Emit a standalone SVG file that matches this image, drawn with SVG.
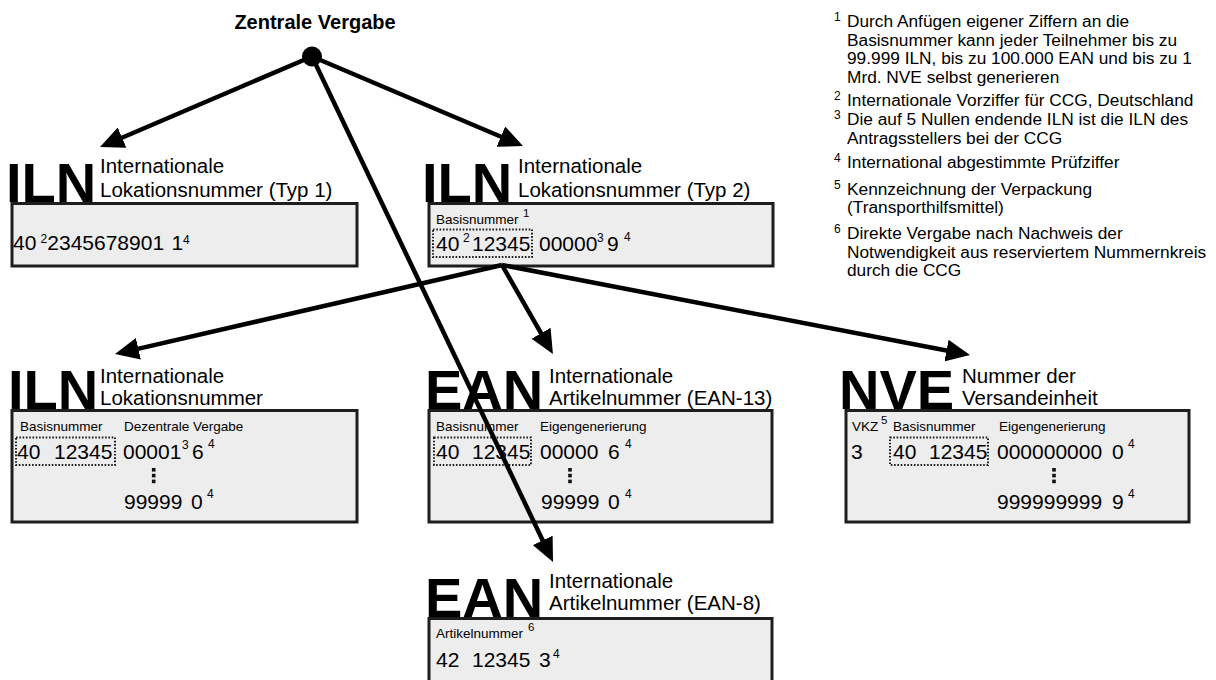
<svg xmlns="http://www.w3.org/2000/svg" width="1216" height="680" viewBox="0 0 1216 680">
  <style>
    text { font-family: "Liberation Sans", Arial, Helvetica, sans-serif; fill: #000; }
    .title { font-size: 20px; font-weight: bold; }
    .big { font-size: 56px; font-weight: bold; }
    .sub { font-size: 20.5px; }
    .num { font-size: 21px; }
    .lab { font-size: 13.5px; }
    .sup { font-size: 12px; }
    .lsup { font-size: 11.5px; }
    .fn { font-size: 17.3px; }
    .box { fill: #ededed; stroke: #1e1e1e; stroke-width: 3; }
    .dot { fill: none; stroke: #1e1e1e; stroke-width: 2; stroke-dasharray: 1.6 1.7; }
    .vdots { fill: #111; }
    .edge { fill: none; stroke: #000; stroke-width: 4.5; marker-end: url(#head); }
  </style>
  <defs>
    <marker id="head" markerUnits="userSpaceOnUse" markerWidth="24" markerHeight="22" viewBox="0 0 24 22" refX="4" refY="11" orient="auto">
      <path d="M0,0 L24,11 L0,22 Z" fill="#000"/>
    </marker>
    <!-- vertical ellipsis used between number ranges -->
    <g id="ell">
      <rect x="-1.8" y="0" width="3.6" height="3.6" class="vdots"/>
      <rect x="-1.8" y="5.8" width="3.6" height="3.6" class="vdots"/>
      <rect x="-1.8" y="11.6" width="3.6" height="3.6" class="vdots"/>
    </g>
  </defs>

  <!-- root: central assignment -->
  <g id="zentrale-vergabe">
    <text x="315" y="29" class="title" text-anchor="middle">Zentrale Vergabe</text>
    <circle cx="312" cy="56.5" r="10" fill="#000"/>
  </g>

  <!-- ILN type 1 -->
  <g id="iln-typ1">
    <text x="6" y="202" class="big">ILN</text>
    <text x="100" y="173" class="sub">Internationale</text>
    <text x="100" y="197" class="sub">Lokationsnummer (Typ 1)</text>
    <rect x="12" y="203.5" width="345" height="62.5" class="box"/>
    <text x="13" y="250" class="num">40</text>
    <text x="40.5" y="243" class="sup">2</text>
    <text x="47.3" y="250" class="num">2345678901</text>
    <text x="171.5" y="250" class="num">1</text>
    <text x="183" y="244" class="sup">4</text>
  </g>

  <!-- ILN type 2 -->
  <g id="iln-typ2">
    <text x="422" y="202" class="big">ILN</text>
    <text x="518" y="173" class="sub">Internationale</text>
    <text x="518" y="197" class="sub">Lokationsnummer (Typ 2)</text>
    <rect x="429" y="203.5" width="344" height="62.5" class="box"/>
    <text x="436" y="224" class="lab">Basisnummer</text>
    <text x="523" y="217" class="lsup">1</text>
    <rect x="433" y="229.5" width="99" height="27.5" class="dot"/>
    <text x="436" y="251" class="num">40</text>
    <text x="463" y="242" class="sup">2</text>
    <text x="472" y="251" class="num">12345</text>
    <text x="539" y="251" class="num">00000</text>
    <text x="597" y="242" class="sup">3</text>
    <text x="607" y="251" class="num">9</text>
    <text x="624" y="241" class="sup">4</text>
  </g>

  <!-- ILN, decentral assignment -->
  <g id="iln-dezentral">
    <text x="8" y="409" class="big">ILN</text>
    <text x="100" y="383" class="sub">Internationale</text>
    <text x="100" y="405" class="sub">Lokationsnummer</text>
    <rect x="12" y="410.5" width="345" height="111.5" class="box"/>
    <text x="20" y="431" class="lab">Basisnummer</text>
    <text x="124" y="431" class="lab">Dezentrale Vergabe</text>
    <rect x="16" y="437.5" width="99" height="27.5" class="dot"/>
    <text x="17" y="459" class="num">40</text>
    <text x="54" y="459" class="num">12345</text>
    <text x="123" y="459" class="num">00001</text>
    <text x="182" y="449" class="sup">3</text>
    <text x="192" y="459" class="num">6</text>
    <text x="208" y="448" class="sup">4</text>
    <use href="#ell" x="153.7" y="468"/>
    <text x="124" y="508.5" class="num">99999</text>
    <text x="191" y="508.5" class="num">0</text>
    <text x="207" y="498" class="sup">4</text>
  </g>

  <!-- EAN-13 -->
  <g id="ean-13">
    <text x="425" y="409" class="big">EAN</text>
    <text x="549" y="383" class="sub">Internationale</text>
    <text x="549" y="405" class="sub">Artikelnummer (EAN-13)</text>
    <rect x="429" y="410.5" width="343" height="111.5" class="box"/>
    <text x="436" y="431" class="lab">Basisnummer</text>
    <text x="540" y="431" class="lab">Eigengenerierung</text>
    <rect x="434" y="437.5" width="97" height="27.5" class="dot"/>
    <text x="436" y="459" class="num">40</text>
    <text x="472" y="459" class="num">12345</text>
    <text x="540" y="459" class="num">00000</text>
    <text x="608" y="459" class="num">6</text>
    <text x="625" y="448" class="sup">4</text>
    <use href="#ell" x="570" y="468"/>
    <text x="541" y="508.5" class="num">99999</text>
    <text x="608" y="508.5" class="num">0</text>
    <text x="625" y="498" class="sup">4</text>
  </g>

  <!-- NVE -->
  <g id="nve">
    <text x="839" y="409" class="big">NVE</text>
    <text x="962" y="383" class="sub">Nummer der</text>
    <text x="962" y="405" class="sub">Versandeinheit</text>
    <rect x="846" y="410.5" width="343" height="111.5" class="box"/>
    <text x="852" y="431" class="lab">VKZ</text>
    <text x="881" y="424" class="lsup">5</text>
    <text x="893" y="431" class="lab">Basisnummer</text>
    <text x="999" y="431" class="lab">Eigengenerierung</text>
    <text x="851" y="459" class="num">3</text>
    <rect x="890" y="437.5" width="98" height="27.5" class="dot"/>
    <text x="893" y="459" class="num">40</text>
    <text x="929" y="459" class="num">12345</text>
    <text x="997" y="459" class="num">000000000</text>
    <text x="1112" y="459" class="num">0</text>
    <text x="1128" y="448" class="sup">4</text>
    <use href="#ell" x="1054" y="468"/>
    <text x="997" y="508.5" class="num">999999999</text>
    <text x="1112" y="508.5" class="num">9</text>
    <text x="1128" y="498" class="sup">4</text>
  </g>

  <!-- EAN-8 -->
  <g id="ean-8">
    <text x="425" y="617" class="big">EAN</text>
    <text x="549" y="588" class="sub">Internationale</text>
    <text x="549" y="610" class="sub">Artikelnummer (EAN-8)</text>
    <rect x="429" y="618.5" width="343" height="63" class="box"/>
    <text x="436" y="638" class="lab">Artikelnummer</text>
    <text x="528" y="631" class="lsup">6</text>
    <text x="436" y="667" class="num">42</text>
    <text x="472" y="667" class="num">12345</text>
    <text x="539" y="667" class="num">3</text>
    <text x="553" y="658" class="sup">4</text>
  </g>

  <!-- footnotes -->
  <g id="fussnoten">
    <text x="834" y="21" class="sup">1</text>
    <text x="847" y="27" class="fn">Durch Anfügen eigener Ziffern an die</text>
    <text x="847" y="45.5" class="fn">Basisnummer kann jeder Teilnehmer bis zu</text>
    <text x="847" y="64" class="fn">99.999 ILN, bis zu 100.000 EAN und bis zu 1</text>
    <text x="847" y="82.5" class="fn">Mrd. NVE selbst generieren</text>
    <text x="834" y="100" class="sup">2</text>
    <text x="847" y="106" class="fn">Internationale Vorziffer für CCG, Deutschland</text>
    <text x="834" y="119" class="sup">3</text>
    <text x="847" y="125" class="fn">Die auf 5 Nullen endende ILN ist die ILN des</text>
    <text x="847" y="143.5" class="fn">Antragsstellers bei der CCG</text>
    <text x="834" y="162" class="sup">4</text>
    <text x="847" y="168" class="fn">International abgestimmte Prüfziffer</text>
    <text x="834" y="188.5" class="sup">5</text>
    <text x="847" y="194.5" class="fn">Kennzeichnung der Verpackung</text>
    <text x="847" y="213" class="fn">(Transporthilfsmittel)</text>
    <text x="834" y="233" class="sup">6</text>
    <text x="847" y="239" class="fn">Direkte Vergabe nach Nachweis der</text>
    <text x="847" y="257.5" class="fn">Notwendigkeit aus reserviertem Nummernkreis</text>
    <text x="847" y="276" class="fn">durch die CCG</text>
  </g>

  <!-- connectors -->
  <g id="connectors">
    <line x1="312" y1="56.5" x2="118.4" y2="139.2" class="edge"/>
    <line x1="312" y1="56.5" x2="504.6" y2="138.2" class="edge"/>
    <line x1="312" y1="56.5" x2="544.4" y2="544" class="edge"/>
    <line x1="502" y1="265" x2="134.5" y2="349.6" class="edge"/>
    <line x1="502" y1="265" x2="543" y2="336.7" class="edge"/>
    <line x1="502" y1="265" x2="950.4" y2="351.3" class="edge"/>
  </g>
</svg>
